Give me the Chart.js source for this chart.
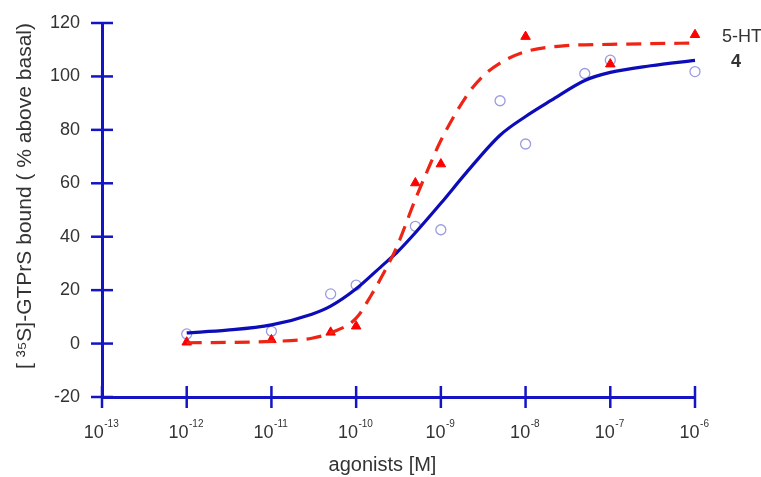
<!DOCTYPE html>
<html>
<head>
<meta charset="utf-8">
<script src="https://cdn.jsdelivr.net/npm/chart.js@4/dist/chart.umd.min.js"></script>
<style>
body { margin: 0; background: white; }
</style>
</head>
<body>
<canvas id="grafica" width="761" height="477"></canvas>
<script>
// puntos medidos (concentracion en M)
const dosis4 = [1e-12, 1e-11, 5e-11, 1e-10, 5e-10, 1e-9, 5e-9, 1e-8, 5e-8, 1e-7, 1e-6]
const valores4 = [3.6, 4.6, 18.6, 21.9, 43.9, 42.6, 90.9, 74.7, 101.1, 106.1, 101.8]
const dosis5HT = [1e-12, 1e-11, 5e-11, 1e-10, 5e-10, 1e-9, 1e-8, 1e-7, 1e-6]
const valores5HT = [0.5, 1.4, 4.2, 6.5, 60.1, 67.2, 114.9, 104.6, 115.6]

// curvas ajustadas
const curvaX4 = [1e-12, 3e-12, 1e-11, 3e-11, 5e-11, 1e-10, 2e-10, 3e-10, 5e-10, 1e-9, 2e-9, 5e-9, 1e-8, 2e-8, 5e-8, 1e-7, 3e-7, 1e-6]
const curvaY4 = [4, 5, 7, 11, 14, 20.5, 29, 34, 41.5, 52.5, 64, 78, 85, 91, 98.5, 101.5, 104, 106]
const curvaX5HT = [1e-12, 1e-11, 3e-11, 5e-11, 1e-10, 1.5e-10, 2e-10, 3e-10, 5e-10, 7e-10, 1e-9, 2e-9, 3e-9, 5e-9, 1e-8, 3e-8, 1e-7, 1e-6]
const curvaY5HT = [0.3, 0.8, 2, 4, 9.5, 18, 25, 36, 54, 65, 76, 92.6, 99.5, 105, 109.3, 111.5, 112, 112.5]

const xTicks = [1e-13, 1e-12, 1e-11, 1e-10, 1e-9, 1e-8, 1e-7, 1e-6]
const xTickBase = '10'
const xTickExp = ['-13', '-12', '-11', '-10', '-9', '-8', '-7', '-6']
const etiquetas = ['5-HT', '4']
const tituloX = 'agonists [M]'
const tituloY = '[ ³⁵S]-GTPrS bound ( % above basal)'

const colorEje = '#1414c4'
const colorAzul = '#0c0cb8'
const colorRojo = '#ee2414'
const colorTexto = '#333'
const fuente = 'Arial, "Liberation Sans", sans-serif'

const puntos = (xs, ys) => xs.map((x, i) => ({ x: x, y: ys[i] }))

const marcas = {
    id: 'marcas',
    afterDraw(chart) {
        const ctx = chart.ctx
        const { left, right, top, bottom } = chart.chartArea
        const sx = chart.scales.x
        const sy = chart.scales.y
        ctx.save()
        ctx.strokeStyle = colorEje
        ctx.lineWidth = 2.5
        sx.ticks.forEach(t => {
            const px = sx.getPixelForValue(t.value)
            ctx.beginPath()
            ctx.moveTo(px, bottom - 11)
            ctx.lineTo(px, bottom + 11)
            ctx.stroke()
        })
        sy.ticks.forEach(t => {
            const py = sy.getPixelForValue(t.value)
            ctx.beginPath()
            ctx.moveTo(left - 11, py)
            ctx.lineTo(left + 11, py)
            ctx.stroke()
        })

        // etiquetas del eje x con exponente
        ctx.fillStyle = colorTexto
        ctx.textBaseline = 'middle'
        ctx.textAlign = 'left'
        xTicks.forEach((v, i) => {
            const px = sx.getPixelForValue(v)
            ctx.font = '18px ' + fuente
            const wb = ctx.measureText(xTickBase).width
            ctx.font = '10px ' + fuente
            const we = ctx.measureText(xTickExp[i]).width
            const x0 = px - (wb + we) / 2 - 1
            ctx.font = '18px ' + fuente
            ctx.fillText(xTickBase, x0, bottom + 36)
            ctx.font = '10px ' + fuente
            ctx.fillText(xTickExp[i], x0 + wb + 0.5, bottom + 27)
        })

        // titulos de los ejes
        ctx.textAlign = 'center'
        ctx.font = '20px ' + fuente
        ctx.fillText(tituloX, (left + right) / 2 - 16, bottom + 68)
        ctx.save()
        ctx.translate(25, (top + bottom) / 2 - 14)
        ctx.rotate(-Math.PI / 2)
        ctx.font = '21px ' + fuente
        ctx.fillText(tituloY, 0, 0)
        ctx.restore()

        ctx.textAlign = 'left'
        ctx.font = '18px ' + fuente
        ctx.fillText(etiquetas[0], right + 27, top + 14)
        ctx.font = 'bold 18px ' + fuente
        ctx.fillText(etiquetas[1], right + 36, top + 39)
        ctx.restore()
    }
}

const config = {
    type: 'scatter',
    data: {
        datasets: [
            {
                label: '5-HT ajuste',
                data: puntos(curvaX5HT, curvaY5HT),
                showLine: true,
                borderColor: colorRojo,
                borderWidth: 3.2,
                borderDash: [15, 9],
                pointRadius: 0,
                cubicInterpolationMode: 'monotone',
                clip: false
            },
            {
                label: '4 ajuste',
                data: puntos(curvaX4, curvaY4),
                showLine: true,
                borderColor: colorAzul,
                borderWidth: 3.2,
                pointRadius: 0,
                cubicInterpolationMode: 'monotone',
                clip: false
            },
            {
                label: '5-HT',
                data: puntos(dosis5HT, valores5HT),
                pointStyle: 'triangle',
                pointRadius: 5.5,
                backgroundColor: '#ff0000',
                borderColor: '#ff0000',
                borderWidth: 1,
                clip: false
            },
            {
                label: '4',
                data: puntos(dosis4, valores4),
                pointStyle: 'circle',
                pointRadius: 5,
                backgroundColor: 'rgba(255,255,255,0)',
                borderColor: '#9c9ce0',
                borderWidth: 1.3,
                clip: false
            }
        ]
    },
    options: {
        responsive: false,
        animation: false,
        layout: { padding: { top: 23, right: 66, left: 0, bottom: 0 } },
        plugins: {
            legend: { display: false },
            tooltip: { enabled: false }
        },
        scales: {
            x: {
                type: 'logarithmic',
                min: 1e-13,
                max: 1e-6,
                afterBuildTicks: (axis) => {
                    axis.ticks = xTicks.map(v => ({ value: v }))
                },
                afterFit: (axis) => { axis.height = 80 },
                grid: { display: false, drawTicks: false },
                border: { display: true, color: colorEje, width: 3 },
                ticks: { display: false },
                title: { display: false }
            },
            y: {
                min: -20,
                max: 120,
                afterFit: (axis) => {
                    axis.width = 102
                    axis.paddingTop = 0
                    axis.paddingBottom = 0
                },
                grid: { display: false, drawTicks: false },
                border: { display: true, color: colorEje, width: 3 },
                ticks: {
                    stepSize: 20,
                    padding: 22,
                    color: colorTexto,
                    font: { family: fuente, size: 18 }
                },
                title: { display: false }
            }
        }
    },
    plugins: [marcas]
}

const grafDOM = document.querySelector('#grafica')
const miGraf = new Chart(grafDOM, config)
</script>
</body>
</html>
